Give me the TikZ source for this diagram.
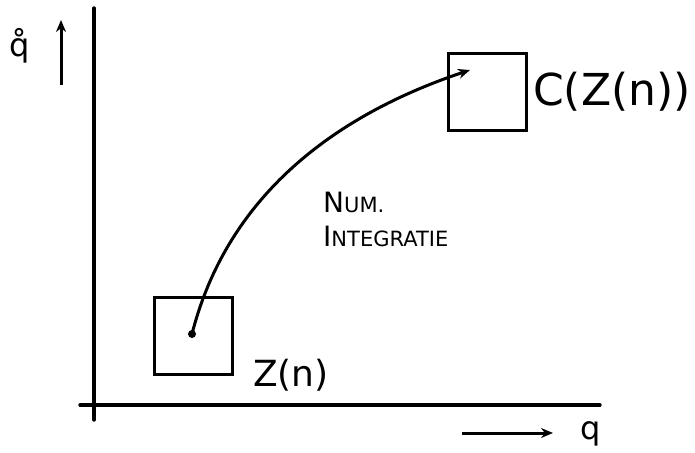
\documentclass[tikz,border=0pt]{standalone}
\usepackage{fontspec}
\setmainfont{DejaVu Sans}
\usetikzlibrary{arrows.meta}
\begin{document}
\begin{tikzpicture}[x=1pt,y=-1pt,
  axis/.style={line width=3.4pt,line cap=round},
  statebox/.style={draw,line width=3pt,minimum width=78pt,minimum height=77pt,inner sep=0pt},
  arr/.style={line width=3pt,-{Stealth[length=12pt,width=10pt]}},
  lbl/.style={inner sep=0pt,anchor=west}]
\useasboundingbox (0,0) rectangle (695,452);
% axes
\coordinate (ytop) at (94,8);
\coordinate (ybot) at (94,420);
\coordinate (xl) at (80,405);
\coordinate (xr) at (600,405);
\draw[axis] (ytop) -- (ybot);
\draw[axis] (xl) -- (xr);
% axis direction arrows and labels
\coordinate (ya0) at (61,85);
\coordinate (ya1) at (61,20);
\draw[arr] (ya0) -- (ya1);
\node[inner sep=0pt] (qdot) at (20,46) {\fontsize{32}{32}\selectfont\r{q}};
\coordinate (xa0) at (462,433);
\coordinate (xa1) at (553,433);
\draw[arr] (xa0) -- (xa1);
\node[inner sep=0pt] (q) at (591,434) {\fontsize{32}{32}\selectfont q};
% boxes
\node[statebox] (zn) at (193,336) {};
\node[statebox] (czn) at (487,92) {};
\node[lbl] (znl) at (253,375) {\fontsize{36}{36}\selectfont Z(n)};
\node[lbl] (cznl) at (533,92) {\fontsize{44}{44}\selectfont C(Z(n))};
% integration arrow
\coordinate (p0) at (192,334);
\coordinate (p1) at (470,70);
\fill (p0) circle (4pt);
\draw[arr] (p0) .. controls (230,185) and (350,110) .. (p1);
\node[lbl,align=left,anchor=north west] (num) at (323,192)
  {{\fontsize{28}{28}\selectfont N}{\fontsize{21}{21}\selectfont UM.}\\[12pt]
   {\fontsize{28}{28}\selectfont I}{\fontsize{21}{21}\selectfont NTEGRATIE}};
\end{tikzpicture}
\end{document}
